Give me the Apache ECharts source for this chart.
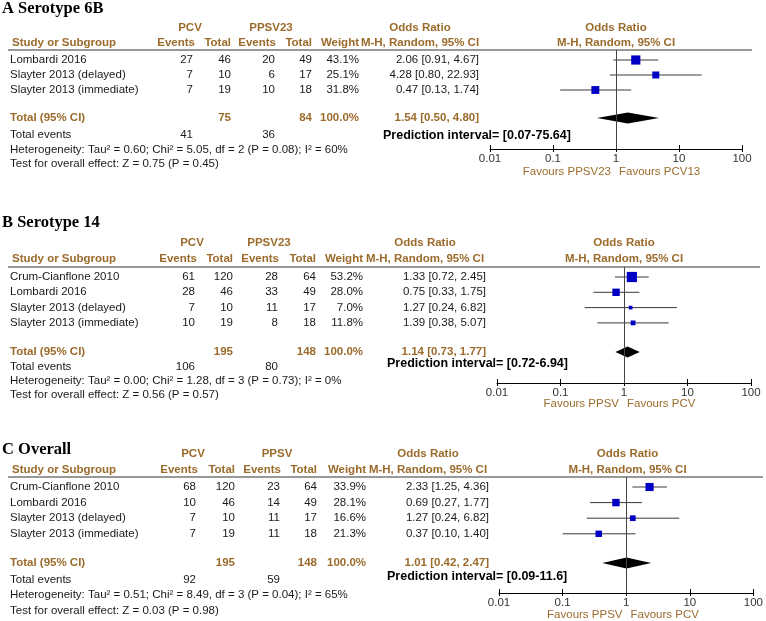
<!DOCTYPE html>
<html><head><meta charset="utf-8">
<script src="https://cdn.jsdelivr.net/npm/echarts@6/dist/echarts.min.js"></script>
<style>html,body{margin:0;padding:0;background:#fff}#c{width:766px;height:621px}</style>
</head><body><div id="c"></div>
<script>
// ---------- DATA ----------
const tickLabels = ['0.01', '0.1', '1', '10', '100'];

// Panel A: Serotype 6B
const studiesA = ['Lombardi 2016', 'Slayter 2013 (delayed)', 'Slayter 2013 (immediate)'];
const pcvEventsA = [27, 7, 7];
const pcvTotalA = [46, 10, 19];
const ppsvEventsA = [20, 6, 10];
const ppsvTotalA = [49, 17, 18];
const weightA = [43.1, 25.1, 31.8];
const orA = [2.06, 4.28, 0.47];
const loA = [0.91, 0.80, 0.13];
const hiA = [4.67, 22.93, 1.74];
const pooledA = [1.54, 0.50, 4.80];
const totalsA = [75, 84];
const totalEventsA = [41, 36];
const hetA = 'Heterogeneity: Tau² = 0.60; Chi² = 5.05, df = 2 (P = 0.08); I² = 60%';
const testA = 'Test for overall effect: Z = 0.75 (P = 0.45)';
const predA = 'Prediction interval= [0.07-75.64]';
const labelsA = ['A Serotype 6B', 'PPSV23', 'Favours PPSV23', 'Favours PCV13'];

// Panel B: Serotype 14
const studiesB = ['Crum-Cianflone 2010', 'Lombardi 2016', 'Slayter 2013 (delayed)', 'Slayter 2013 (immediate)'];
const pcvEventsB = [61, 28, 7, 10];
const pcvTotalB = [120, 46, 10, 19];
const ppsvEventsB = [28, 33, 11, 8];
const ppsvTotalB = [64, 49, 17, 18];
const weightB = [53.2, 28.0, 7.0, 11.8];
const orB = [1.33, 0.75, 1.27, 1.39];
const loB = [0.72, 0.33, 0.24, 0.38];
const hiB = [2.45, 1.75, 6.82, 5.07];
const pooledB = [1.14, 0.73, 1.77];
const totalsB = [195, 148];
const totalEventsB = [106, 80];
const hetB = 'Heterogeneity: Tau² = 0.00; Chi² = 1.28, df = 3 (P = 0.73); I² = 0%';
const testB = 'Test for overall effect: Z = 0.56 (P = 0.57)';
const predB = 'Prediction interval= [0.72-6.94]';
const labelsB = ['B Serotype 14', 'PPSV23', 'Favours PPSV', 'Favours PCV'];

// Panel C: Overall
const studiesC = ['Crum-Cianflone 2010', 'Lombardi 2016', 'Slayter 2013 (delayed)', 'Slayter 2013 (immediate)'];
const pcvEventsC = [68, 10, 7, 7];
const pcvTotalC = [120, 46, 10, 19];
const ppsvEventsC = [23, 14, 11, 11];
const ppsvTotalC = [64, 49, 17, 18];
const weightC = [33.9, 28.1, 16.6, 21.3];
const orC = [2.33, 0.69, 1.27, 0.37];
const loC = [1.25, 0.27, 0.24, 0.10];
const hiC = [4.36, 1.77, 6.82, 1.40];
const pooledC = [1.01, 0.42, 2.47];
const totalsC = [195, 148];
const totalEventsC = [92, 59];
const hetC = 'Heterogeneity: Tau² = 0.51; Chi² = 8.49, df = 3 (P = 0.04); I² = 65%';
const testC = 'Test for overall effect: Z = 0.03 (P = 0.98)';
const predC = 'Prediction interval= [0.09-11.6]';
const labelsC = ['C Overall', 'PPSV', 'Favours PPSV', 'Favours PCV'];

// ---------- LAYOUT (positions only) ----------
const layoutA = {titleY:9, h1Y:28, h2Y:43, lineY:50, lineX1:8, lineX2:752, row0:60, rowH:15, totalY:118, teY:135, hetY:150, testY:164, predX:383, predY:136, axisY:149, x001:490, x100:742, favY:172, cEv1:195, cTot1:231, cEv2:276, cTot2:312, cW:359, cOR:479, cORHdr:420, cPCV:190, cPPSV:271};
const layoutB = {titleY:223, h1Y:243, h2Y:259, lineY:267, lineX1:8, lineX2:760, row0:277, rowH:15.3, totalY:352, teY:367, hetY:381, testY:395, predX:387, predY:364, axisY:383, x001:497, x100:751, favY:404, cEv1:197, cTot1:233, cEv2:279, cTot2:316, cW:363, cOR:486, cORHdr:425, cPCV:192, cPPSV:269};
const layoutC = {titleY:450, h1Y:454, h2Y:470, lineY:477, lineX1:8, lineX2:763, row0:487, rowH:15.6, totalY:563, teY:580, hetY:595, testY:611, predX:387, predY:577, axisY:593, x001:499, x100:756, favY:615, cEv1:198, cTot1:235, cEv2:281, cTot2:317, cW:366, cOR:489, cORHdr:428, cPCV:193, cPPSV:277};

const panels = [
  {L: layoutA, studies: studiesA, pe: pcvEventsA, pt: pcvTotalA, qe: ppsvEventsA, qt: ppsvTotalA, w: weightA, or: orA, lo: loA, hi: hiA, pooled: pooledA, totals: totalsA, tev: totalEventsA, het: hetA, test: testA, pred: predA, labels: labelsA},
  {L: layoutB, studies: studiesB, pe: pcvEventsB, pt: pcvTotalB, qe: ppsvEventsB, qt: ppsvTotalB, w: weightB, or: orB, lo: loB, hi: hiB, pooled: pooledB, totals: totalsB, tev: totalEventsB, het: hetB, test: testB, pred: predB, labels: labelsB},
  {L: layoutC, studies: studiesC, pe: pcvEventsC, pt: pcvTotalC, qe: ppsvEventsC, qt: ppsvTotalC, w: weightC, or: orC, lo: loC, hi: hiC, pooled: pooledC, totals: totalsC, tev: totalEventsC, het: hetC, test: testC, pred: predC, labels: labelsC}
];

// ---------- STYLE ----------
const HDR = '#9c6b2c';
const TXT = '#1a1a1a';
const SANS = '"Liberation Sans", Arial, sans-serif';
const FONT = '11.5px ' + SANS;
const BOLD = 'bold 11.5px ' + SANS;

const graphics = [];
function txt(x, y, text, align, font, color) {
  graphics.push({
    type: 'text', silent: true,
    style: {text: String(text), x: x, y: y, textAlign: align, align: align,
      textVerticalAlign: 'middle', verticalAlign: 'middle', font: font, fill: color}
  });
}
const fmt2 = v => v.toFixed(2);
const ciText = (o, l, h) => fmt2(o) + ' [' + fmt2(l) + ', ' + fmt2(h) + ']';

const grids = [], xAxes = [], yAxes = [], series = [];

panels.forEach((p, k) => {
  const L = p.L;
  const xOne = (L.x001 + L.x100) / 2;
  // title
  txt(2, L.titleY, p.labels[0], 'left', 'bold 16.5px "Liberation Serif", "Times New Roman", serif', '#000');
  // header row 1
  txt(L.cPCV, L.h1Y, 'PCV', 'center', BOLD, HDR);
  txt(L.cPPSV, L.h1Y, p.labels[1], 'center', BOLD, HDR);
  txt(L.cORHdr, L.h1Y, 'Odds Ratio', 'center', BOLD, HDR);
  txt(xOne, L.h1Y, 'Odds Ratio', 'center', BOLD, HDR);
  // header row 2
  txt(12, L.h2Y, 'Study or Subgroup', 'left', BOLD, HDR);
  txt(L.cEv1, L.h2Y, 'Events', 'right', BOLD, HDR);
  txt(L.cTot1, L.h2Y, 'Total', 'right', BOLD, HDR);
  txt(L.cEv2, L.h2Y, 'Events', 'right', BOLD, HDR);
  txt(L.cTot2, L.h2Y, 'Total', 'right', BOLD, HDR);
  txt(L.cW, L.h2Y, 'Weight', 'right', BOLD, HDR);
  txt(L.cORHdr, L.h2Y, 'M-H, Random, 95% CI', 'center', BOLD, HDR);
  txt(xOne, L.h2Y, 'M-H, Random, 95% CI', 'center', BOLD, HDR);
  // header rule
  graphics.push({type: 'line', silent: true, shape: {x1: L.lineX1, y1: L.lineY, x2: L.lineX2, y2: L.lineY}, style: {stroke: '#333', lineWidth: 1}});
  // study rows
  p.studies.forEach((s, i) => {
    const y = L.row0 + i * L.rowH;
    txt(10, y, s, 'left', FONT, TXT);
    txt(L.cEv1 - 2, y, p.pe[i], 'right', FONT, TXT);
    txt(L.cTot1, y, p.pt[i], 'right', FONT, TXT);
    txt(L.cEv2 - 1, y, p.qe[i], 'right', FONT, TXT);
    txt(L.cTot2, y, p.qt[i], 'right', FONT, TXT);
    txt(L.cW, y, p.w[i].toFixed(1) + '%', 'right', FONT, TXT);
    txt(L.cOR, y, ciText(p.or[i], p.lo[i], p.hi[i]), 'right', FONT, TXT);
  });
  // total row
  txt(10, L.totalY, 'Total (95% CI)', 'left', BOLD, HDR);
  txt(L.cTot1, L.totalY, p.totals[0], 'right', BOLD, HDR);
  txt(L.cTot2, L.totalY, p.totals[1], 'right', BOLD, HDR);
  txt(L.cW, L.totalY, '100.0%', 'right', BOLD, HDR);
  txt(L.cOR, L.totalY, ciText(p.pooled[0], p.pooled[1], p.pooled[2]), 'right', BOLD, HDR);
  txt(10, L.teY, 'Total events', 'left', FONT, TXT);
  txt(L.cEv1 - 2, L.teY, p.tev[0], 'right', FONT, TXT);
  txt(L.cEv2 - 1, L.teY, p.tev[1], 'right', FONT, TXT);
  txt(10, L.hetY, p.het, 'left', FONT, TXT);
  txt(10, L.testY, p.test, 'left', FONT, TXT);
  txt(L.predX, L.predY, p.pred, 'left', 'bold 12.5px ' + SANS, '#000');
  txt(xOne - 5, L.favY, p.labels[2], 'right', FONT, HDR);
  txt(xOne + 3, L.favY, p.labels[3], 'left', FONT, HDR);

  // forest plot grid
  grids.push({left: L.x001, right: 766 - L.x100, top: L.lineY, height: L.axisY - L.lineY, containLabel: false});
  const logAxisBase = {
    type: 'log', logBase: 10, min: 0.01, max: 100, gridIndex: k, position: 'bottom', offset: 0,
    splitLine: {show: false}, minorTick: {show: false}
  };
  xAxes.push(Object.assign({}, logAxisBase, {
    axisLine: {show: true, onZero: false, lineStyle: {color: '#000', width: 1}},
    axisTick: {show: true, inside: true, length: 4, lineStyle: {color: '#000'}},
    axisLabel: {
      show: true, margin: 4, color: '#333', fontSize: 11.5, fontFamily: SANS,
      formatter: v => tickLabels[Math.round(Math.log10(v)) + 2]
    }
  }));
  xAxes.push(Object.assign({}, logAxisBase, {
    axisLine: {show: false, onZero: false},
    axisTick: {show: true, inside: false, length: 3, lineStyle: {color: '#000'}},
    axisLabel: {show: false}
  }));
  const yMin = -(L.row0 - L.lineY) / L.rowH;
  const yMax = (L.axisY - L.row0) / L.rowH;
  yAxes.push({type: 'value', gridIndex: k, inverse: true, min: yMin, max: yMax, show: false});

  const studyData = p.or.map((o, i) => [o, p.lo[i], p.hi[i], i, p.w[i]]);
  series.push({
    type: 'custom', xAxisIndex: 2 * k, yAxisIndex: k, silent: true, clip: false,
    data: studyData,
    encode: {x: [0, 1, 2], y: 3},
    renderItem: (params, api) => {
      const y = api.value(3);
      const a = api.coord([api.value(1), y]);
      const b = api.coord([api.value(2), y]);
      const c = api.coord([api.value(0), y]);
      const s = Math.sqrt(api.value(4)) * 1.4;
      return {type: 'group', children: [
        {type: 'line', shape: {x1: a[0], y1: a[1], x2: b[0], y2: b[1]}, style: {stroke: '#3a3a3a', lineWidth: 1}},
        {type: 'rect', shape: {x: c[0] - s / 2, y: c[1] - s / 2, width: s, height: s}, style: {fill: '#0000c4'}}
      ]};
    },
    markLine: {
      silent: true, symbol: ['none', 'none'], label: {show: false},
      lineStyle: {color: '#444', type: 'solid', width: 1},
      data: [{xAxis: 1}]
    },
    z: 3
  });
  const totalSlot = (L.totalY - L.row0) / L.rowH;
  series.push({
    type: 'custom', xAxisIndex: 2 * k, yAxisIndex: k, silent: true, clip: false,
    data: [[p.pooled[0], p.pooled[1], p.pooled[2], totalSlot]],
    encode: {x: [0, 1, 2], y: 3},
    renderItem: (params, api) => {
      const y = api.value(3);
      const lo = api.coord([api.value(1), y]);
      const hi = api.coord([api.value(2), y]);
      const c = api.coord([api.value(0), y]);
      const h = 5.5;
      return {type: 'polygon', shape: {points: [[lo[0], lo[1]], [c[0], c[1] - h], [hi[0], hi[1]], [c[0], c[1] + h]]}, style: {fill: '#000'}};
    },
    z: 4
  });
});

const chart = echarts.init(document.getElementById('c'), null, {renderer: 'canvas'});
chart.setOption({
  animation: false,
  backgroundColor: '#fff',
  grid: grids,
  xAxis: xAxes,
  yAxis: yAxes,
  series: series,
  graphic: {elements: graphics}
});
</script>
</body></html>
